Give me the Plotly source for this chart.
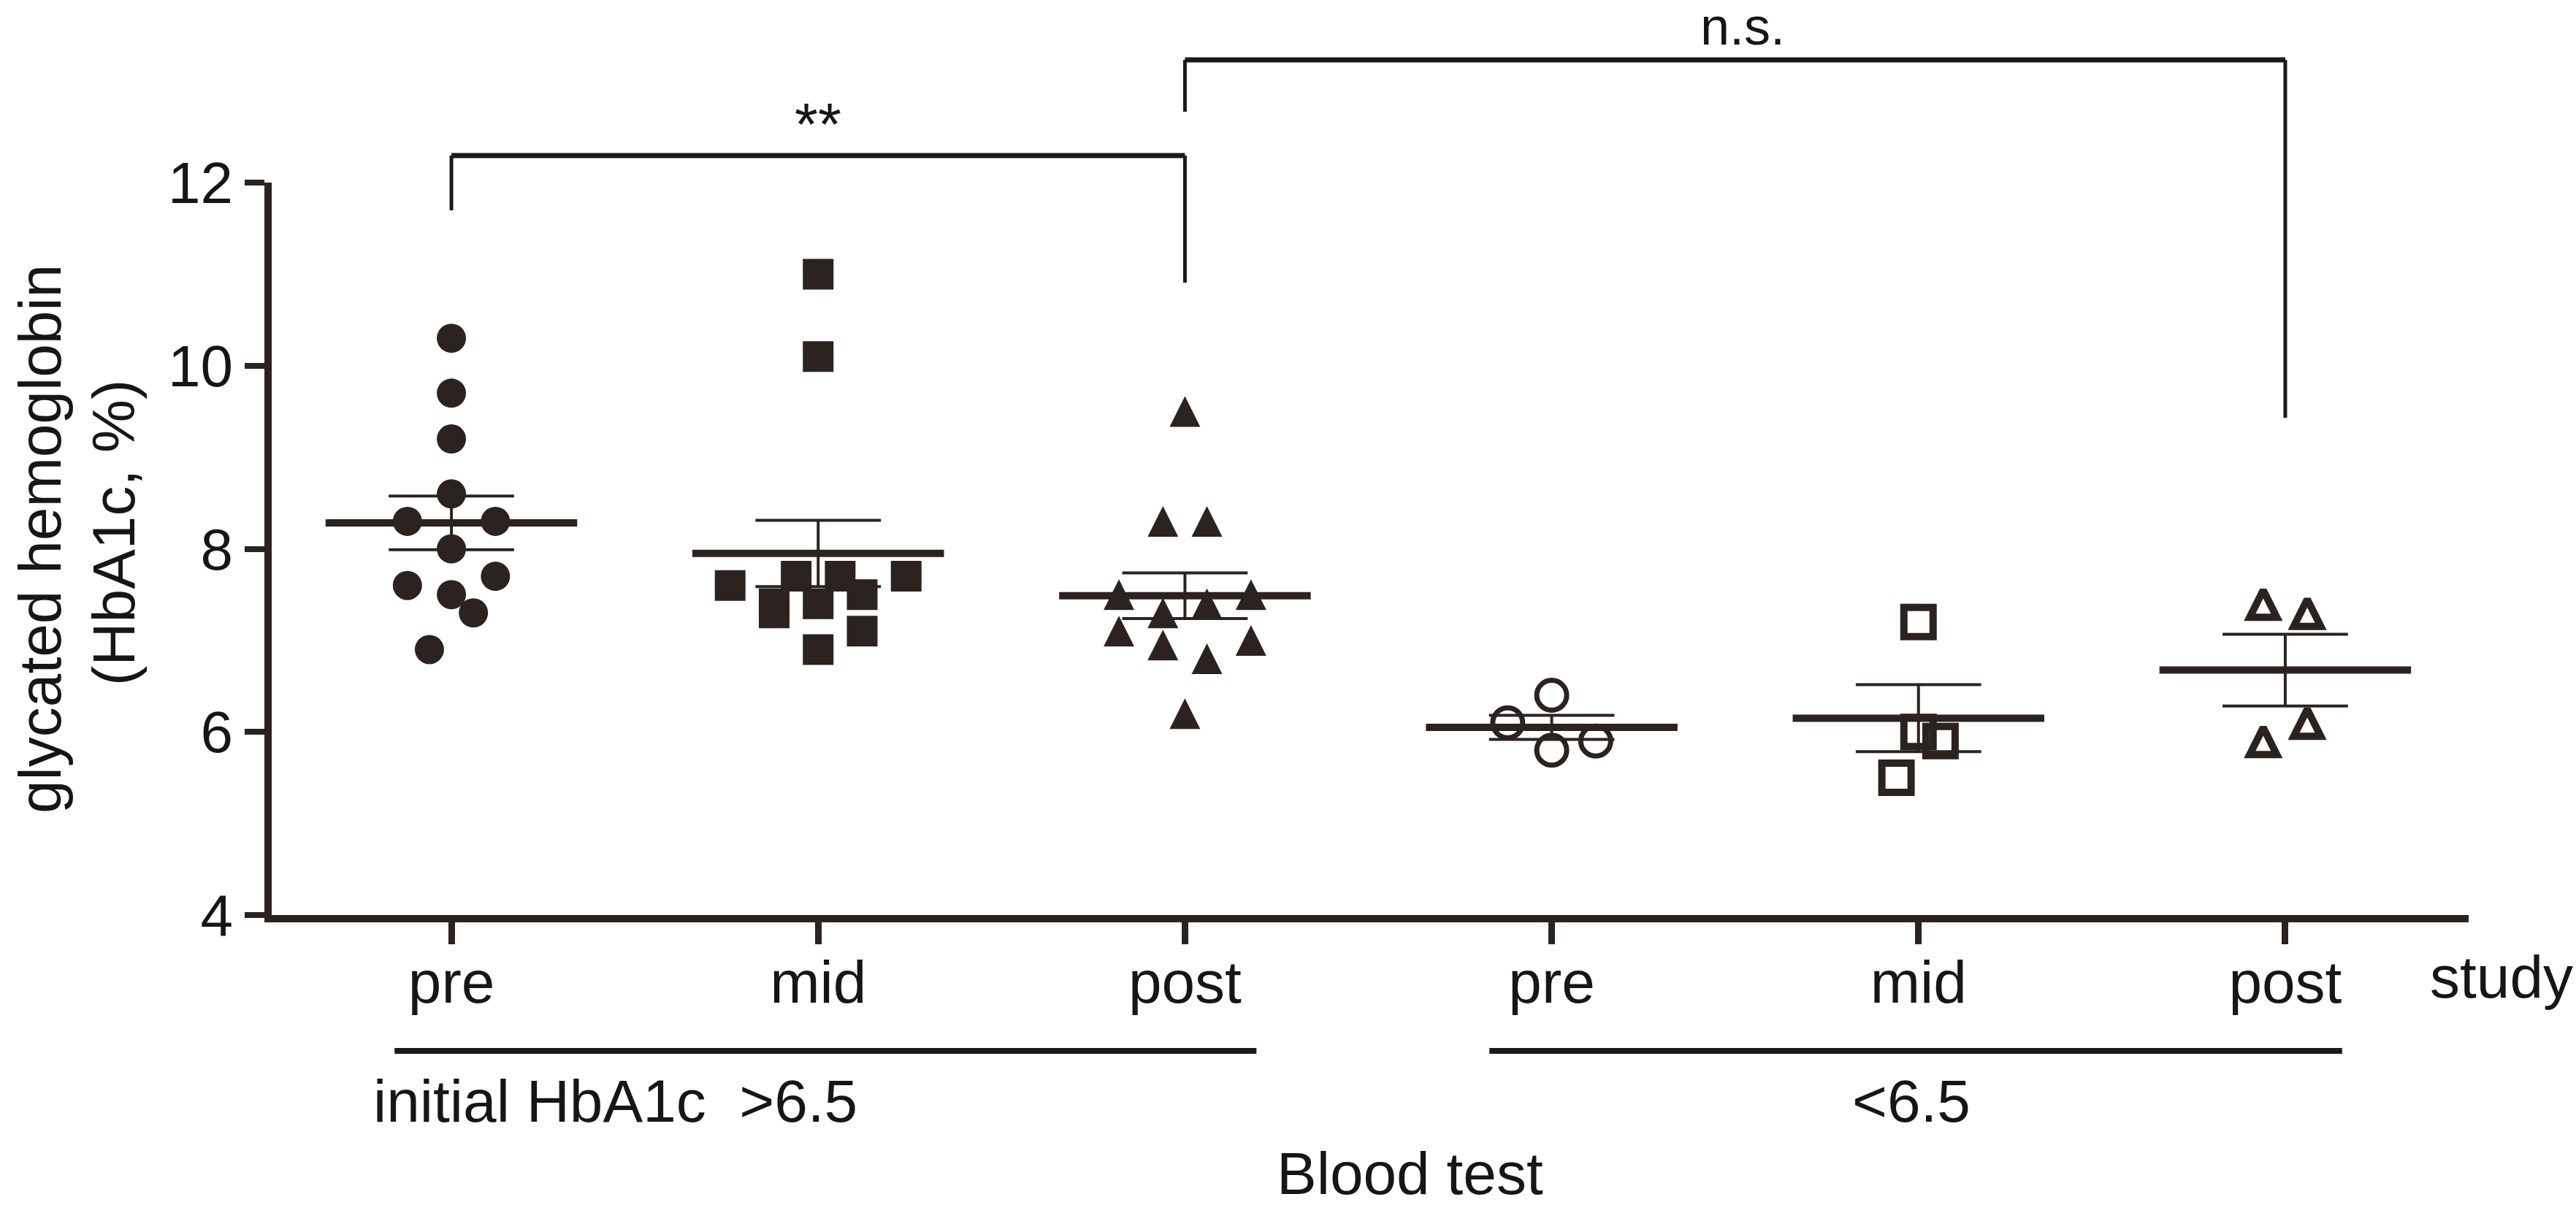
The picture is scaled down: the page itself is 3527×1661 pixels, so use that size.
import numpy as np
import plotly.graph_objects as go

# ---------------- data ----------------
categories = ["pre", "mid", "post", "pre", "mid", "post"]
group_labels = ["initial HbA1c\u00a0 >6.5", "<6.5"]
y_title = ["glycated hemoglobin", "(HbA1c, %)"]

pre_high  = [10.3, 9.7, 9.2, 8.6, 8.3, 8.3, 8.0, 7.7, 7.6, 7.5, 7.3, 6.9]
mid_high  = [11.0, 10.1, 7.7, 7.7, 7.7, 7.6, 7.4, 7.3, 7.4, 7.5, 7.1, 6.9]
post_high = [9.5, 8.3, 8.3, 7.5, 7.5, 7.4, 7.3, 7.1, 6.95, 7.0, 6.8, 6.2]
pre_low   = [6.4, 6.1, 5.8, 5.9]
mid_low   = [7.2, 6.0, 5.9, 5.5]
post_low  = [7.4, 7.3, 6.1, 5.9]

# scatter slot of each point (side-by-side spreading of equal values)
pre_high_slot  = [0, 0, 0, 0, -2, 2, 0, 2, -2, 0, 1, -1]
mid_high_slot  = [0, 0, -1, 1, 4, -4, -2, -2, 0, 2, 2, 0]
post_high_slot = [0, -1, 1, -3, 3, 1, -1, -3, -1, 3, 1, 0]
pre_low_slot   = [0, -2, 0, 2]
mid_low_slot   = [0, 0, 1, -1]
post_low_slot  = [-1, 1, 1, -1]

y_ticks = [4, 6, 8, 10, 12]

# ---------------- layout constants ----------------
W, H = 3527, 1661
PL, PR, PT, PB = 372, 3380, 250, 1253          # plot area in pixels
XMIN, XMAX = -0.49, 5.5
YMIN, YMAX = 4, 12
PXY = (PB - PT) / (YMAX - YMIN)                  # pixels per y unit
FS = 82
FONT = "Liberation Sans, Arial, Helvetica, sans-serif"
C = "#2b2320"
TXT = "#161616"
SLOT = 0.06
MEAN_HW = 0.343
CAP_HW = 0.171


def xpap(c):
    return (c - XMIN) / (XMAX - XMIN)


def pxx(p):
    return (p - PL) / (PR - PL)


def pxy(p):
    return (PB - p) / (PB - PT)


def base_to_mid(b, fs=FS):
    return pxy(b - 0.3465 * fs - 6)


groups = [
    (pre_high, pre_high_slot, dict(symbol="circle", size=40, color=C), 0),
    (mid_high, mid_high_slot, dict(symbol="square", size=42, color=C), 0),
    (post_high, post_high_slot, dict(symbol="arrow-up", size=42, color=C), 1),
    (pre_low, pre_low_slot, dict(symbol="circle-open", size=41, color=C,
                                 line=dict(width=7, color=C)), 0),
    (mid_low, mid_low_slot, dict(symbol="square-open", size=40, color=C,
                                 line=dict(width=10, color=C)), 0),
    (post_low, post_low_slot, dict(symbol="arrow-up-open", size=37, color=C,
                                   line=dict(width=10, color=C)), 1),
]

fig = go.Figure()

for i, (vals, slots, mk, is_arrow) in enumerate(groups):
    v = np.array(vals, dtype=float)
    xs = i + np.array(slots) * SLOT
    # arrow symbols hang below their anchor; shift so the glyph is centred on the value
    ys = v + (mk["size"] / 2.0) / PXY if is_arrow else v
    fig.add_trace(go.Scatter(x=xs, y=ys, mode="markers", marker=mk,
                             showlegend=False, hoverinfo="skip", cliponaxis=False))

for i, (vals, slots, mk, is_arrow) in enumerate(groups):
    v = np.array(vals, dtype=float)
    m = v.mean()
    se = v.std(ddof=1) / np.sqrt(len(v))
    fig.add_trace(go.Scatter(x=[i - MEAN_HW, i + MEAN_HW], y=[m, m], mode="lines",
                             line=dict(color=C, width=10), showlegend=False,
                             hoverinfo="skip"))
    fig.add_trace(go.Scatter(
        x=[i - CAP_HW, i + CAP_HW, None, i - CAP_HW, i + CAP_HW, None, i, i],
        y=[m + se, m + se, None, m - se, m - se, None, m - se, m + se],
        mode="lines", line=dict(color=C, width=4), showlegend=False,
        hoverinfo="skip"))

shapes = []


def seg(x0, y0, x1, y1, w):
    shapes.append(dict(type="line", xref="paper", yref="paper",
                       x0=x0, y0=y0, x1=x1, y1=y1,
                       line=dict(color="#1a1a1a", width=w)))


# significance brackets
seg(xpap(0), pxy(213), xpap(2), pxy(213), 7)
seg(xpap(0), pxy(213), xpap(0), pxy(288), 5)
seg(xpap(2), pxy(213), xpap(2), pxy(387), 5)
seg(xpap(2), pxy(82), xpap(5), pxy(82), 7)
seg(xpap(2), pxy(82), xpap(2), pxy(153), 5)
seg(xpap(5), pxy(82), xpap(5), pxy(572), 5)
# group underlines
seg(xpap(-0.155), pxy(1439), xpap(2.195), pxy(1439), 8)
seg(xpap(2.83), pxy(1439), xpap(5.155), pxy(1439), 8)

NS_FS = 72
annotations = [
    dict(text="**", x=xpap(1), y=base_to_mid(204), xanchor="center", yanchor="middle"),
    dict(text="n.s.", x=xpap(3.52), y=base_to_mid(67, NS_FS), xanchor="center",
         yanchor="middle", font_size=NS_FS),
    dict(text="study", x=pxx(3325), y=base_to_mid(1372), xanchor="left", yanchor="middle"),
    dict(text=group_labels[0], x=pxx(509), y=base_to_mid(1542), xanchor="left", yanchor="middle"),
    dict(text=group_labels[1], x=xpap(3.98), y=base_to_mid(1542), xanchor="center", yanchor="middle"),
    dict(text="Blood test", x=pxx(1930), y=base_to_mid(1641), xanchor="center", yanchor="middle"),
    dict(text=y_title[0], x=pxx(54), y=pxy(738), xanchor="center", yanchor="middle",
         textangle=-90),
    dict(text=y_title[1], x=pxx(155), y=pxy(730), xanchor="center", yanchor="middle",
         textangle=-90),
]
for a in annotations:
    fs = a.pop("font_size", FS)
    a.update(xref="paper", yref="paper", showarrow=False,
             font=dict(family=FONT, size=fs, color=TXT))

fig.update_layout(
    width=W, height=H,
    margin=dict(l=PL, r=W - PR, t=PT, b=H - PB, pad=0),
    paper_bgcolor="white", plot_bgcolor="white",
    shapes=shapes, annotations=annotations,
    xaxis=dict(range=[XMIN, XMAX], tickvals=list(range(len(categories))),
               ticktext=categories, showgrid=False, zeroline=False,
               showline=True, linewidth=10, linecolor=C,
               ticks="outside", ticklen=30, tickwidth=9, tickcolor=C,
               ticklabelstandoff=-18,
               tickfont=dict(family=FONT, size=FS, color=TXT)),
    yaxis=dict(range=[YMIN, YMAX], tickvals=y_ticks, showgrid=False, zeroline=False,
               showline=True, linewidth=10, linecolor=C,
               ticks="outside", ticklen=27, tickwidth=8, tickcolor=C,
               tickfont=dict(family=FONT, size=80, color=TXT)),
)

fig.write_html("out.html",
               config={"displayModeBar": False},
               post_script="document.body.style.margin='0';"
                           "document.body.style.overflow='hidden';")
